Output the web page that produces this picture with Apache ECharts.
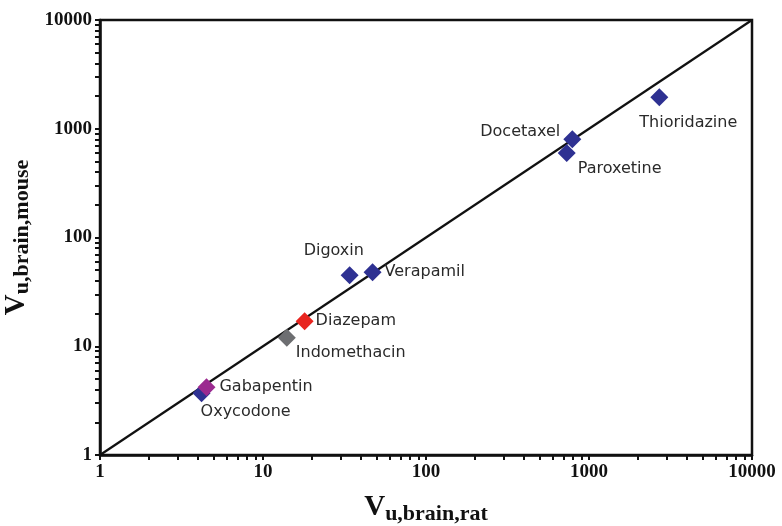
<!DOCTYPE html>
<html>
<head>
<meta charset="UTF-8" />
<script type="text/javascript" src="https://cdn.jsdelivr.net/npm/echarts@6/dist/echarts.min.js"></script>
<title>Vu,brain mouse vs rat</title>
<style>
	html, body { margin: 0; padding: 0; background: #fff; }
	#main { width: 782px; height: 526px; }
</style>
</head>
<body>
<div id="main"></div>
<script type="text/javascript">
	// drug names and unbound brain volumes (rat on x, mouse on y)
	var drugs = ['Thioridazine', 'Docetaxel', 'Paroxetine', 'Digoxin', 'Verapamil', 'Diazepam', 'Indomethacin', 'Oxycodone', 'Gabapentin']
	var ratV = [2700, 790, 730, 34, 47, 18, 14, 4.2, 4.5]
	var mouseV = [1950, 800, 600, 45, 48, 17, 12, 3.7, 4.2]
	// line of unity
	var unityX = [1, 10000]
	var unityY = [1, 10000]
	// minor + major tick positions on both log axes
	var tickVals = []
	for (var p = 1; p <= 1000; p *= 10) {
		for (var k = 1; k < 10; k++) tickVals.push(k * p)
	}
	tickVals.push(10000)

	var colorOf = {
		Diazepam: '#e8251f',
		Indomethacin: '#6d6e71',
		Gabapentin: '#9b2a8f'
	}
	// label placement: [dx, dy] from marker centre, text align
	var labelAt = {
		Thioridazine: [-20, 26, 'left'],
		Docetaxel: [-12, -7, 'right'],
		Paroxetine: [11, 16, 'left'],
		Digoxin: [-46, -24, 'left'],
		Verapamil: [12, 0, 'left'],
		Diazepam: [11, 0, 'left'],
		Indomethacin: [9, 15, 'left'],
		Gabapentin: [13, 0, 'left'],
		Oxycodone: [-1, 19, 'left']
	}
	var symSize = 18

	var points = drugs.map(function (name, i) {
		var l = labelAt[name]
		return {
			name: name,
			value: [ratV[i], mouseV[i]],
			itemStyle: { color: colorOf[name] || '#2e3192', opacity: 1 },
			label: {
				show: true,
				formatter: name,
				position: [l[0] + symSize / 2, l[1] + symSize / 2],
				align: l[2],
				verticalAlign: 'middle'
			}
		}
	})

	var serif = "'Liberation Serif', 'Times New Roman', serif"

	function logAxis(nameText, nameGap, rotate) {
		return {
			type: 'log',
			logBase: 10,
			min: 1,
			max: 10000,
			name: nameText,
			nameLocation: 'middle',
			nameGap: nameGap,
			nameRotate: rotate,
			nameTextStyle: {
				color: '#111',
				fontFamily: serif,
				fontWeight: 'bold',
				rich: {
					v: { fontSize: 29, fontFamily: serif, fontWeight: 'bold', color: '#111' },
					s: { fontSize: 22, fontFamily: serif, fontWeight: 'bold', color: '#111', padding: [12, 0, 0, 0] }
				}
			},
			axisLine: { show: true, lineStyle: { color: '#111', width: 2.5 } },
			axisTick: { show: true, inside: false, length: 5, customValues: tickVals, lineStyle: { color: '#111', width: 2 } },
			minorTick: { show: false },
			splitLine: { show: false },
			axisLabel: {
				color: '#111',
				fontFamily: serif,
				fontWeight: 'bold',
				fontSize: 19,
				margin: 8,
				formatter: function (v) { return String(Math.round(v)) }
			}
		}
	}

	var xAx = logAxis('{v|V}{s|u,brain,rat}', 36, 0)
	var yAx = logAxis('{v|V}{s|u,brain,mouse}', 62, 90)

	var option = {
		animation: false,
		backgroundColor: '#fff',
		grid: {
			left: 100,
			right: 30,
			top: 20,
			bottom: 71,
			outerBoundsMode: 'none',
			containLabel: false,
			show: true,
			borderColor: '#111',
			borderWidth: 2.5,
			backgroundColor: 'transparent'
		},
		xAxis: xAx,
		yAxis: yAx,
		series: [{
			type: 'line',
			data: unityX.map(function (x, i) { return [x, unityY[i]] }),
			symbol: 'none',
			lineStyle: { color: '#111', width: 2.2 },
			z: 1
		}, {
			type: 'scatter',
			symbol: 'diamond',
			symbolSize: symSize,
			data: points,
			label: {
				color: '#2a2a2a',
				fontFamily: "'DejaVu Sans', Arial, sans-serif",
				fontSize: 16
			},
			z: 2
		}]
	}

	var myChart = echarts.init(document.getElementById('main'))
	myChart.setOption(option)
</script>
</body>
</html>
